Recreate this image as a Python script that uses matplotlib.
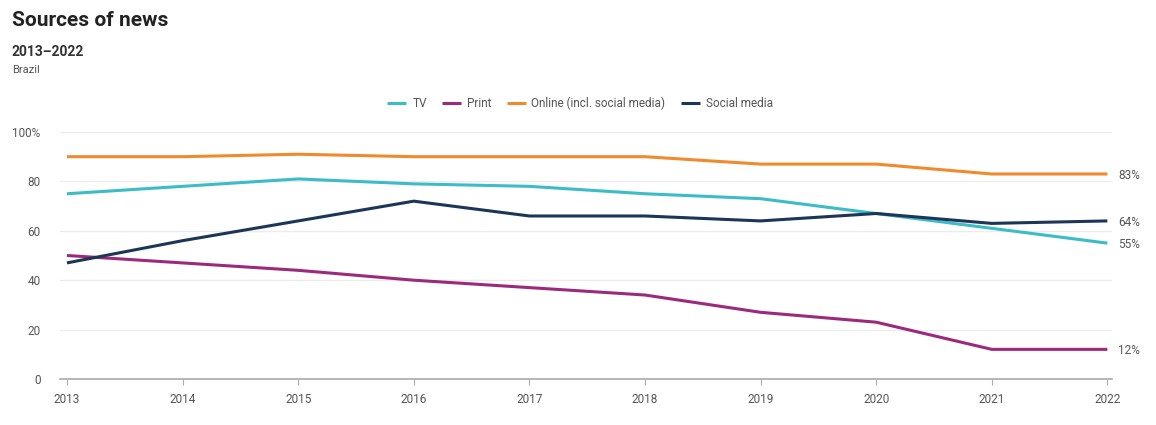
import matplotlib
matplotlib.use('Agg')
import matplotlib.pyplot as plt

plt.rcParams['font.family'] = ['Roboto', 'DejaVu Sans']

years = [2013, 2014, 2015, 2016, 2017, 2018, 2019, 2020, 2021, 2022]
tv = [75, 78, 81, 79, 78, 75, 73, 67, 61, 55]
print_ = [50, 47, 44, 40, 37, 34, 27, 23, 12, 12]
online = [90, 90, 91, 90, 90, 90, 87, 87, 83, 83]
social = [47, 56, 64, 72, 66, 66, 64, 67, 63, 64]

series_names = ['TV', 'Print', 'Online (incl. social media)', 'Social media']
series_vals = [tv, print_, online, social]
colors = ['#3cbcc6', '#9c2a7c', '#f08a2c', '#1d3557']
y_ticks = [0, 20, 40, 60, 80, 100]
y_labels = ['0', '20', '40', '60', '80', '100%']

fig = plt.figure(figsize=(11.56, 4.25), dpi=100)
ax = fig.add_axes([60/1156, 46/425, 1052/1156, 247/425])

for name, vals, c in zip(series_names, series_vals, colors):
    ax.plot(years, vals, color=c, lw=2.2, label=name, solid_capstyle='butt')

# labels at the end of each line
for vals in series_vals:
    ax.annotate(f'{vals[-1]}%', xy=(years[-1], vals[-1]), xytext=(8, -1),
                textcoords='offset points', va='center', ha='left',
                fontsize=8.5, color='#555555')

ax.set_xlim(2012.94, 2022.04)
ax.set_ylim(0, 100)
ax.set_xticks(years)
ax.set_xticklabels([str(y) for y in years], fontsize=8.5, color='#555555')
ax.set_yticks(y_ticks)
ax.set_yticklabels(y_labels, fontsize=8.5, color='#555555')
ax.grid(axis='y', color='#ececec', lw=1)
ax.set_axisbelow(True)
for s in ['top', 'right', 'left']:
    ax.spines[s].set_visible(False)
ax.spines['bottom'].set_color('#aaaaaa')
ax.spines['bottom'].set_linewidth(1.2)
ax.tick_params(axis='x', length=4, color='#aaaaaa', pad=6)
ax.tick_params(axis='y', length=0, pad=14)

leg = fig.legend(loc='center', bbox_to_anchor=(580/1156, 1 - 103/425), ncol=4,
                 frameon=False, fontsize=8.5, handlelength=1.6, handletextpad=0.5,
                 columnspacing=1.3)
for t in leg.get_texts():
    t.set_color('#555555')

fig.text(12/1156, 1 - 20/425, 'Sources of news', fontsize=15, fontweight='bold',
         va='center', ha='left', color='#222222')
fig.text(12/1156, 1 - 52/425, '2013–2022', fontsize=10, fontweight='bold',
         va='center', ha='left', color='#333333')
fig.text(12/1156, 1 - 70/425, 'Brazil', fontsize=8, va='center', ha='left',
         color='#555555')

fig.savefig('out.png', dpi=100)
